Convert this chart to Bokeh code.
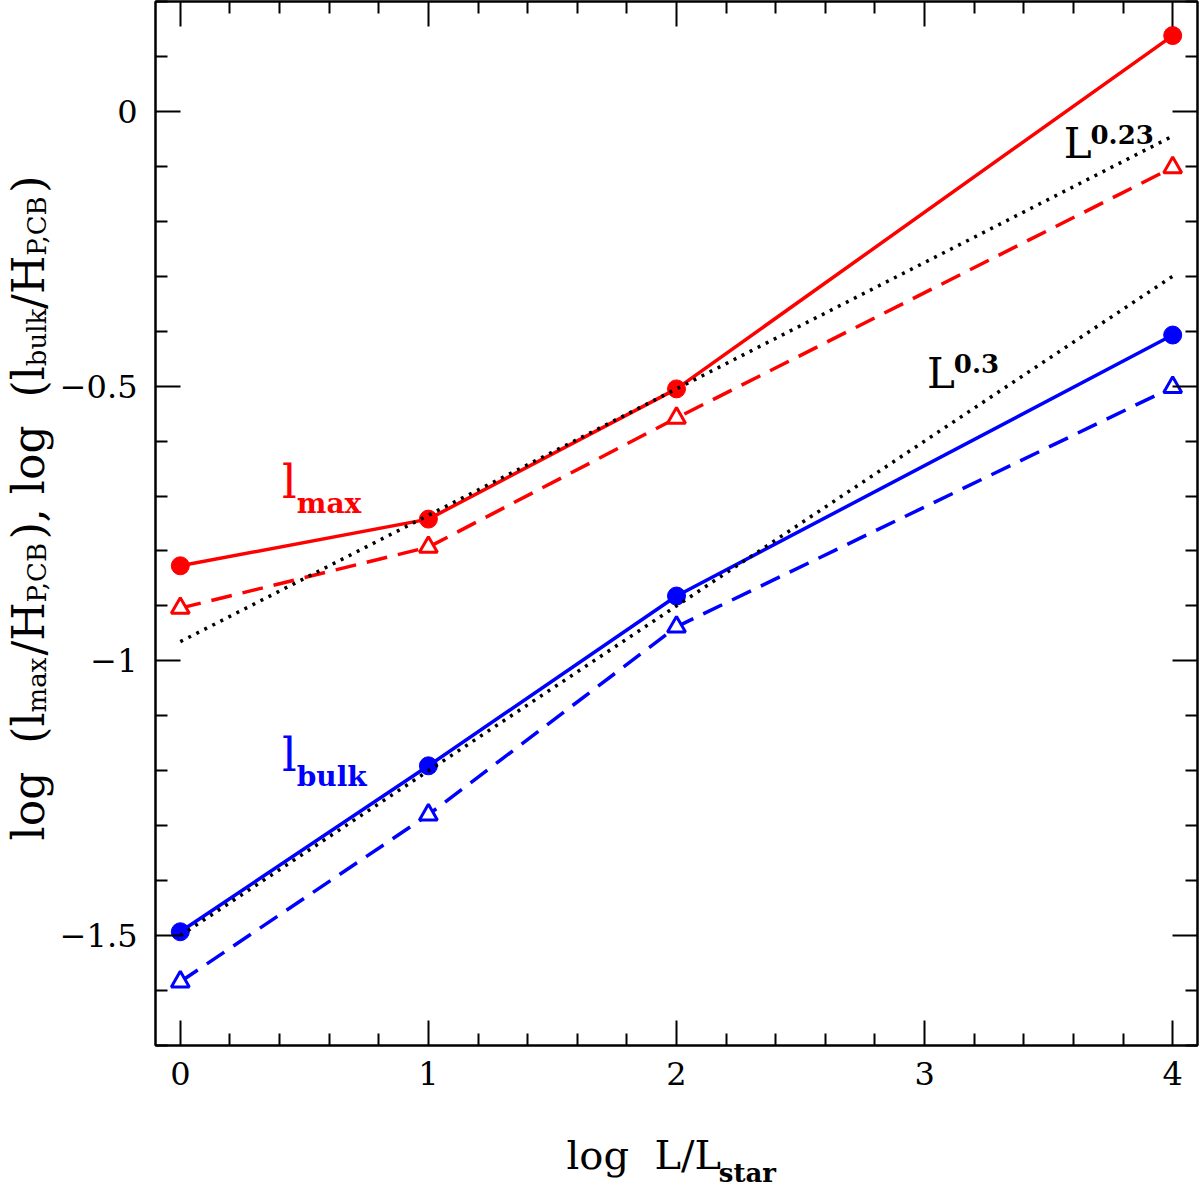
from bokeh.embed import file_html
from bokeh.layouts import column, row
from bokeh.models import FixedTicker, Label, LinearAxis
from bokeh.plotting import figure
from bokeh.resources import INLINE

# values
log_l = [0, 1, 2, 4]
lmax_solid = [-0.827, -0.742, -0.505, 0.138]
lmax_dashed = [-0.904, -0.793, -0.558, -0.102]
lbulk_solid = [-1.493, -1.191, -0.882, -0.407]
lbulk_dashed = [-1.584, -1.280, -0.938, -0.502]

# power-law guide lines (end points)
fit_x = [0, 4]
fit_023 = [-0.965, -0.045]
fit_03 = [-1.500, -0.300]

x_ticks = [0, 1, 2, 3, 4]
x_minor = [0.2, 0.4, 0.6, 0.8, 1.2, 1.4, 1.6, 1.8, 2.2, 2.4, 2.6, 2.8,
           3.2, 3.4, 3.6, 3.8]
y_ticks = [-1.5, -1, -0.5, 0]
y_tick_labels = ["\u22121.5", "\u22121", "\u22120.5", "0"]
y_minor = [-1.7, -1.6, -1.4, -1.3, -1.2, -1.1, -0.9, -0.8, -0.7, -0.6,
           -0.4, -0.3, -0.2, -0.1, 0.1, 0.2]

FONT = "DejaVu Serif"
RED = "#ff0000"
BLUE = "#0000ff"
NB = "\u00a0"  # svg collapses runs of plain spaces

# rough advance widths of DejaVu Serif (em), used to chain sub/superscripts
EM = {' ': 0.318, NB: 0.318, '(': 0.390, ')': 0.390, '/': 0.337, ',': 0.318,
      '.': 0.318, 'l': 0.320, 'o': 0.602, 'g': 0.640, 'L': 0.637, 'H': 0.870,
      'P': 0.680, 'C': 0.720, 'B': 0.710, 'm': 0.948, 'a': 0.596, 'x': 0.645,
      'b': 0.640, 'u': 0.644, 'k': 0.600, 's': 0.513, 't': 0.402, 'r': 0.478,
      '0': 0.636, '2': 0.636, '3': 0.636}
BASE_FIX = 0.36  # bokeh draws "alphabetic" text a bit low, pull it back up


def text_width(txt, size, bold):
    w = sum(EM.get(c, 0.6) for c in txt) * size
    return w * 1.1 if bold else w


def rich_label(p, x, y, parts, color="black", vertical=False):
    # parts: (text, font size px, bold, shift px; positive = lowered)
    adv = 0.0
    for txt, size, bold, shift in parts:
        drop = shift - BASE_FIX * size
        if vertical:
            xo, yo = drop, adv
        else:
            xo, yo = adv, -drop
        p.add_layout(Label(x=x, y=y, x_offset=xo, y_offset=yo, text=txt,
                           text_font=FONT, text_font_size="%dpx" % size,
                           text_font_style="bold" if bold else "normal",
                           text_color=color, text_align="left",
                           text_baseline="alphabetic",
                           angle=1.5707963 if vertical else 0))
        adv += text_width(txt, size, bold)


def blank_fig(w, h):
    f = figure(width=w, height=h, x_range=(0, w), y_range=(h, 0),
               output_backend="svg", toolbar_location=None,
               x_axis_location=None, y_axis_location=None, min_border=0)
    f.xgrid.visible = False
    f.ygrid.visible = False
    f.outline_line_color = None
    return f


p = figure(width=1143, height=1125, x_range=(-0.1, 4.1), y_range=(-1.7, 0.2),
           output_backend="svg", toolbar_location=None,
           min_border_left=97, min_border_right=2, min_border_top=1,
           min_border_bottom=80)
p.xgrid.visible = False
p.ygrid.visible = False
p.outline_line_color = "black"
p.outline_line_width = 2

p.add_layout(LinearAxis(), "right")
p.add_layout(LinearAxis(), "above")

for ax in p.xaxis:
    ax.ticker = FixedTicker(ticks=x_ticks, minor_ticks=x_minor)
for ax in p.yaxis:
    ax.ticker = FixedTicker(ticks=y_ticks, minor_ticks=y_minor)
    ax.major_label_overrides = dict(zip(y_ticks, y_tick_labels))
for ax in p.axis:
    ax.axis_line_width = 2
    ax.axis_line_color = "black"
    ax.major_tick_in = 25
    ax.major_tick_out = 0
    ax.minor_tick_in = 12
    ax.minor_tick_out = 0
    ax.major_tick_line_width = 2
    ax.minor_tick_line_width = 2
    ax.major_label_text_font = FONT
    ax.major_label_text_font_size = "32px"
    ax.major_label_text_color = "black"
for ax in (p.right[0], p.above[0]):
    ax.major_label_text_color = None
    ax.major_label_standoff = 0
p.left[0].major_label_standoff = 18
p.below[0].major_label_standoff = 16

# lines
p.line(log_l, lmax_solid, line_color=RED, line_width=3.5)
p.line(log_l, lmax_dashed, line_color=RED, line_width=3.5, line_dash="21 11")
p.line(log_l, lbulk_solid, line_color=BLUE, line_width=3.5)
p.line(log_l, lbulk_dashed, line_color=BLUE, line_width=3.5, line_dash="21 11")

p.scatter(log_l, lmax_solid, marker="circle", size=18, color=RED)
p.scatter(log_l, lbulk_solid, marker="circle", size=18, color=BLUE)
p.scatter(log_l, lmax_dashed, marker="triangle", size=18, line_color=RED,
          fill_color="white", line_width=3)
p.scatter(log_l, lbulk_dashed, marker="triangle", size=18, line_color=BLUE,
          fill_color="white", line_width=3)

p.line(fit_x, fit_023, line_color="black", line_width=3.5, line_dash="3 6")
p.line(fit_x, fit_03, line_color="black", line_width=3.5, line_dash="3 6")

# in-plot labels
rich_label(p, 0.41, -0.704, [("l", 46, False, 0), ("max", 28, True, 15)], RED)
rich_label(p, 0.41, -1.202, [("l", 46, False, 0), ("bulk", 28, True, 15)], BLUE)
rich_label(p, 3.561, -0.0855, [("L", 42, False, 0), ("0.23", 26, True, -15)])
rich_label(p, 3.010, -0.504, [("L", 42, False, 0), ("0.3", 26, True, -15)])

# axis titles live in their own thin figures (text outside a frame is clipped)
ylab = blank_fig(56, 1125)
rich_label(ylab, 44, 904, [
    ("log " + NB + "(l", 44, False, 0), ("max", 26, False, 2),
    ("/H", 44, False, 0), ("P,CB", 26, False, 2),
    ("), log " + NB + "(l", 44, False, 0), ("bulk", 26, False, 2),
    ("/H", 44, False, 0), ("P,CB", 26, False, 2),
    (")", 44, False, 0)], vertical=True)

xlab = blank_fig(1199, 75)
rich_label(xlab, 566, 44, [("log " + NB + "L/L", 40, False, 0),
                           ("star", 26, True, 13)])

page = column(row(ylab, p), xlab)
open("out.html", "w").write(file_html(page, INLINE))
